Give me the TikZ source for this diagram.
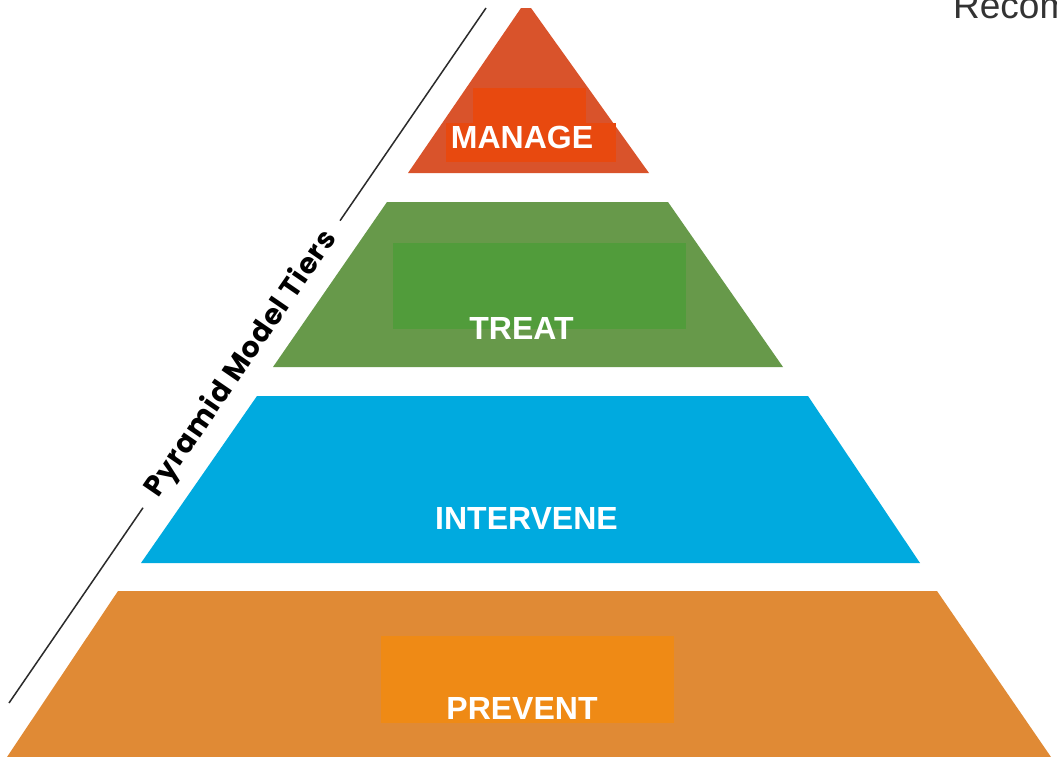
\documentclass[tikz,border=0pt]{standalone}
\usepackage{fontspec}
\setmainfont{Liberation Sans}
\newfontfamily\popfont[LetterSpace=4]{Poppins}
\usetikzlibrary{calc}
\definecolor{mgout}{HTML}{D9532B}
\definecolor{mgin}{HTML}{E8490F}
\definecolor{trout}{HTML}{67994A}
\definecolor{trin}{HTML}{519C3B}
\definecolor{inblue}{HTML}{00AADF}
\definecolor{prout}{HTML}{E08A35}
\definecolor{prin}{HTML}{EF8A15}
\definecolor{axisgray}{HTML}{2B2B2B}
\definecolor{recgray}{HTML}{333333}
\tikzset{
  tierlabel/.style={anchor=base, inner sep=0pt, text=white,
    font=\fontsize{32}{32}\selectfont\bfseries},
  axisline/.style={draw=axisgray, line width=1.5pt},
}
\begin{document}
\begin{tikzpicture}[x=1pt,y=-1pt]
\useasboundingbox (0,0) rectangle (1057,756);
\clip (0,0) rectangle (1057,756);
\fill[white] (0,0) rectangle (1057,756);
% tiers
\fill[mgout] (408,173) -- (521,8) -- (531,8) -- (649,173) -- cycle;
\fill[mgin] (473,88) rectangle (586,123);
\fill[mgin] (446,123) rectangle (616,162);
\fill[trout] (273,367) -- (387,202) -- (668,202) -- (783,367) -- cycle;
\fill[trin] (393,243) rectangle (686,329);
\fill[inblue] (141,563) -- (257,396) -- (808,396) -- (920,563) -- cycle;
\fill[prout] (7,757) -- (118,591) -- (937,591) -- (1051,757) -- cycle;
\fill[prin] (381,636) rectangle (674,723);
% labels
\node[tierlabel] (manage) at (522,148) {MANAGE};
\node[tierlabel] (treat) at (521.5,339) {TREAT};
\node[tierlabel] (intervene) at (526.5,529) {INTERVENE};
\node[tierlabel] (prevent) at (522,719) {PREVENT};
% axis line
\coordinate (la) at (9,703);
\coordinate (lb) at (486,8);
\coordinate (ga) at ($(la)!0.281!(lb)$);
\coordinate (gb) at ($(la)!0.694!(lb)$);
\draw[axisline] (la) -- (ga);
\draw[axisline] (gb) -- (lb);
\node[rotate=55.5, inner sep=0pt, text=black,
  font=\popfont\fontsize{28.5}{28.5}\selectfont\bfseries] (axistext) at ($(la)!0.4875!(lb)$)
  {Pyramid Model Tiers};
% cut-off title
\node[anchor=base west, inner sep=0pt, text=recgray,
  font=\fontsize{37}{37}\selectfont] (recom) at (953,18) {Recom};
\end{tikzpicture}
\end{document}
